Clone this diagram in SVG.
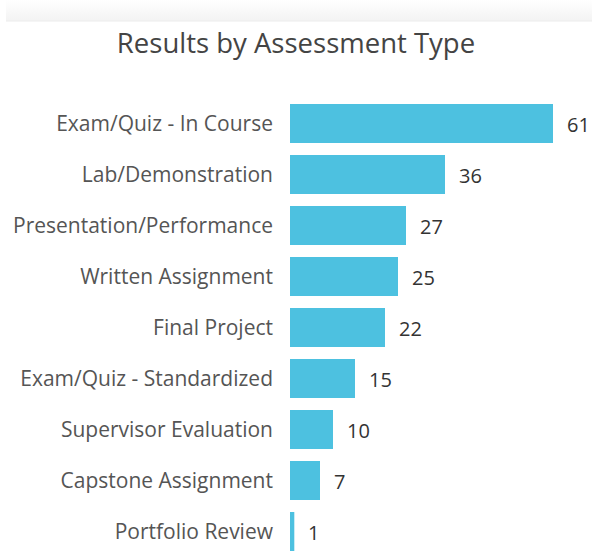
<svg xmlns="http://www.w3.org/2000/svg" width="592" height="554" viewBox="0 0 592 554">
<defs>
<linearGradient id="band" x1="0" y1="0" x2="0" y2="1">
<stop offset="0" stop-color="#ffffff"/>
<stop offset="1" stop-color="#f3f3f3"/>
</linearGradient>
<style>
.lbl{font-family:"Open Sans","Noto Sans",sans-serif;font-size:21px;fill:#555;text-anchor:end}
.val{font-family:"Open Sans","Noto Sans",sans-serif;font-size:20px;fill:#333}
.bar{fill:#4dc1e0}
.title{font-family:"Open Sans","Noto Sans",sans-serif;font-size:27.5px;fill:#444;text-anchor:middle}
</style>
</defs>
<rect x="0" y="0" width="592" height="554" fill="#ffffff"/>
<rect x="6" y="0" width="586" height="21" fill="url(#band)"/>
<line x1="6" y1="21" x2="592" y2="21" stroke="#ececec" stroke-width="1"/>
<text class="title" x="296" y="53">Results by Assessment Type</text>
<g id="row1"><text class="lbl" x="273" y="131">Exam/Quiz - In Course</text><rect class="bar" x="290" y="104" width="263" height="39"/><text class="val" x="567" y="132">61</text></g>
<g id="row2"><text class="lbl" x="273" y="182">Lab/Demonstration</text><rect class="bar" x="290" y="155" width="155" height="39"/><text class="val" x="459" y="183">36</text></g>
<g id="row3"><text class="lbl" x="273" y="233">Presentation/Performance</text><rect class="bar" x="290" y="206" width="116" height="39"/><text class="val" x="420" y="234">27</text></g>
<g id="row4"><text class="lbl" x="273" y="284">Written Assignment</text><rect class="bar" x="290" y="257" width="108" height="39"/><text class="val" x="412" y="285">25</text></g>
<g id="row5"><text class="lbl" x="273" y="335">Final Project</text><rect class="bar" x="290" y="308" width="95" height="39"/><text class="val" x="399" y="336">22</text></g>
<g id="row6"><text class="lbl" x="273" y="386">Exam/Quiz - Standardized</text><rect class="bar" x="290" y="359" width="65" height="39"/><text class="val" x="369" y="387">15</text></g>
<g id="row7"><text class="lbl" x="273" y="437">Supervisor Evaluation</text><rect class="bar" x="290" y="410" width="43" height="39"/><text class="val" x="347" y="438">10</text></g>
<g id="row8"><text class="lbl" x="273" y="488">Capstone Assignment</text><rect class="bar" x="290" y="461" width="30" height="39"/><text class="val" x="334" y="489">7</text></g>
<g id="row9"><text class="lbl" x="273" y="539">Portfolio Review</text><rect class="bar" x="290" y="512" width="4.3" height="39"/><text class="val" x="308" y="540">1</text></g>
</svg>
